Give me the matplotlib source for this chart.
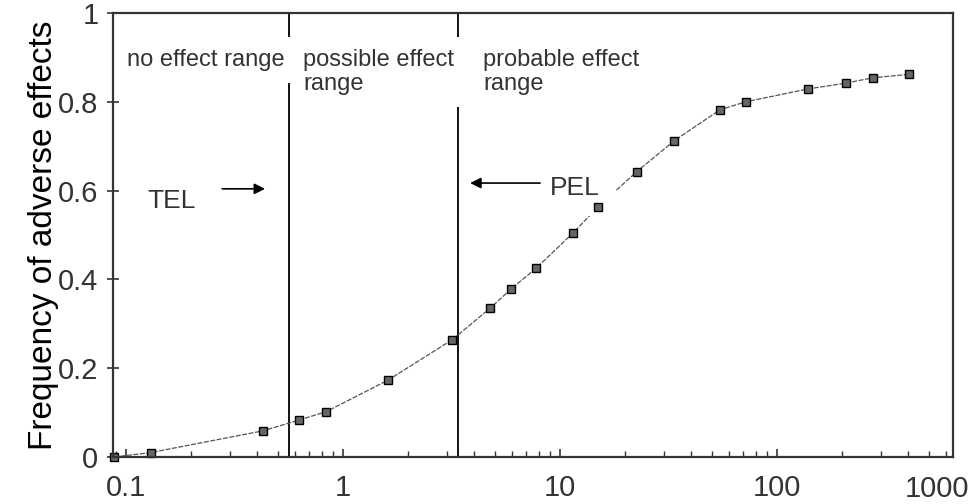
import matplotlib

matplotlib.use("Agg")

import matplotlib.pyplot as plt
from matplotlib.ticker import LogLocator, NullFormatter

plt.rcParams.update({
    "font.family": ["Liberation Sans", "DejaVu Sans"],
    "text.color": "#333333",
    "axes.edgecolor": "#333333",
    "xtick.color": "#333333",
    "ytick.color": "#333333",
})

# concentration (log scale) vs frequency of adverse effects
conc = [0.088, 0.130, 0.428, 0.624, 0.835, 1.61, 3.18, 4.76, 5.93, 7.75,
        11.5, 15.0, 22.6, 33.5, 54.6, 71.7, 139, 207, 276, 406]
freq = [0.0, 0.010, 0.059, 0.083, 0.102, 0.173, 0.264, 0.335, 0.378, 0.425,
        0.505, 0.564, 0.643, 0.712, 0.782, 0.800, 0.829, 0.842, 0.854, 0.862]

tel = 0.564
pel = 3.39

x_ticks = [0.1, 1, 10, 100]
x_labels = ["0.1", "1", "10", "100"]
y_ticks = [0, 0.2, 0.4, 0.6, 0.8, 1.0]
y_labels = ["0", "0.2", "0.4", "0.6", "0.8", "1"]

fig = plt.figure(figsize=(9.76, 5.04), dpi=100)
ax = fig.add_axes([113 / 976, 1 - 457 / 504, 840 / 976, 444 / 504])

ax.set_xscale("log")
ax.set_xlim(0.087, 647)
ax.set_ylim(0, 1)

# curve: thin line, then markers on top of the label boxes
ax.plot(conc, freq, color="#555555", lw=0.9, ls=(0, (4, 1.2)), zorder=2)
ax.plot(conc, freq, ls="none", marker="s", ms=5.5, mfc="#666666",
        mec="black", mew=1.0, zorder=6, clip_on=False)

ax.axvline(tel, color="black", lw=1.3, zorder=1)
ax.axvline(pel, color="black", lw=1.3, zorder=1)

box = dict(boxstyle="square,pad=0.5", fc="white", ec="none")
ax.text(0.101, 0.880, "no effect range", fontsize=17, va="baseline",
        bbox=box, zorder=4)
ax.text(0.654, 0.826, "possible effect\nrange", fontsize=17, va="baseline",
        linespacing=1.15, bbox=box, zorder=4)
ax.text(4.42, 0.826, "probable effect\nrange", fontsize=17, va="baseline",
        linespacing=1.15, bbox=box, zorder=4)

ax.text(0.125, 0.561, "TEL", fontsize=19, va="baseline", zorder=5)
ax.annotate("", xy=(0.437, 0.604), xytext=(0.277, 0.604),
            arrowprops=dict(arrowstyle="-|>", color="black", lw=1.2,
                            mutation_scale=16, shrinkA=0, shrinkB=0),
            zorder=5)

ax.text(8.99, 0.590, "PEL", fontsize=19, va="baseline",
        bbox=dict(boxstyle="square,pad=0.6", fc="white", ec="none"), zorder=4)
ax.annotate("", xy=(3.85, 0.617), xytext=(8.09, 0.617),
            arrowprops=dict(arrowstyle="-|>", color="black", lw=1.2,
                            mutation_scale=16, shrinkA=0, shrinkB=0),
            zorder=5)

ax.set_xticks(x_ticks)
ax.set_xticklabels(x_labels)
ax.xaxis.set_minor_locator(LogLocator(base=10, subs=range(2, 10), numticks=20))
ax.xaxis.set_minor_formatter(NullFormatter())
ax.tick_params(axis="x", which="major", direction="in", length=6, width=1.2,
               labelsize=21, pad=12)
ax.tick_params(axis="x", which="minor", direction="in", length=4, width=1.0)

ax.set_yticks(y_ticks)
ax.set_yticklabels(y_labels)
ax.tick_params(axis="y", direction="inout", length=9, width=1.2,
               labelsize=21, pad=6)

# right-hand end label of the concentration axis
ax.text(0.981, -0.072, "1000", transform=ax.transAxes, fontsize=21,
        ha="center", va="center", color="#333333")

ax.set_ylabel("Frequency of adverse effects", fontsize=24, labelpad=-1)

for s in ax.spines.values():
    s.set_linewidth(1.6)
    s.set_zorder(7)

fig.savefig("out.png", dpi=100)
plt.close(fig)
